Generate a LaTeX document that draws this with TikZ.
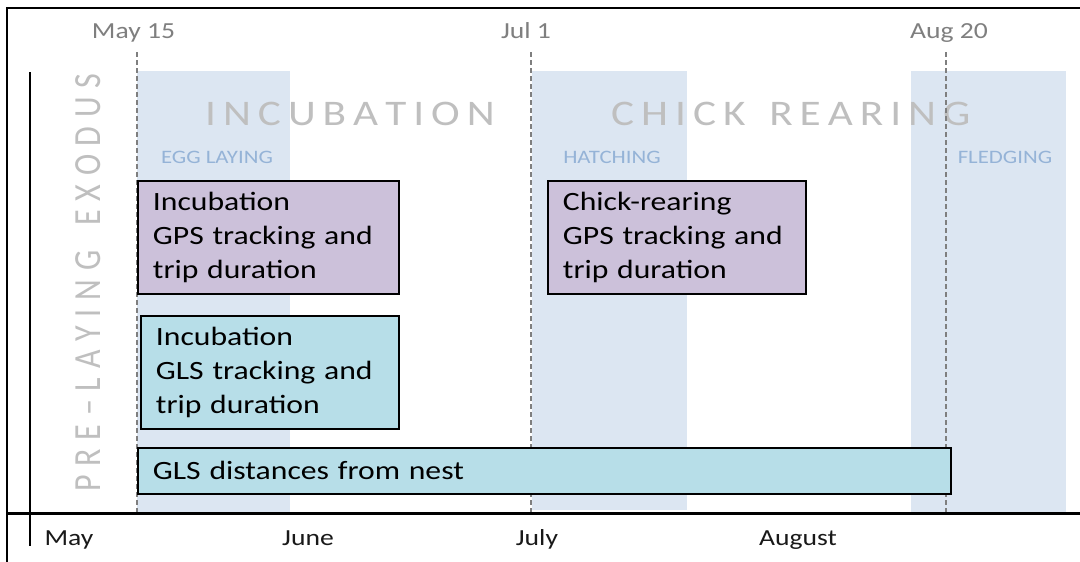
\documentclass[tikz,border=0pt]{standalone}
\usepackage{fontspec}
\usepackage{graphicx}
\setmainfont{Carlito}[FakeStretch=1.2]
\newfontfamily\plainfont{Carlito}
\definecolor{shadeblue}{HTML}{DCE6F2}
\definecolor{lav}{HTML}{CCC1DA}
\definecolor{lightteal}{HTML}{B7DEE8}
\definecolor{phasegray}{HTML}{BFBFBF}
\definecolor{subblue}{HTML}{95B3D7}
\definecolor{dategray}{HTML}{7F7F7F}
\def\spreadit#1#2{\def\spgap{\kern#1}\spreadloop#2\relax}
\def\spreadloop#1{\ifx#1\relax\else#1\spgap\expandafter\spreadloop\fi}
\begin{document}
\begin{tikzpicture}[x=1pt,y=-1pt,
  phase/.style={text=phasegray, font=\fontsize{36}{36}\selectfont, inner sep=0pt, anchor=base west},
  sublabel/.style={text=subblue, font=\fontsize{19}{19}\selectfont, inner sep=0pt, anchor=base},
  datelabel/.style={text=dategray, font=\fontsize{23}{23}\selectfont, inner sep=0pt, anchor=base},
  monthlabel/.style={text=black!90, font=\fontsize{23}{23}\selectfont, inner sep=0pt, anchor=base},
  databox/.style={draw=black, line width=1.8pt, anchor=north west, align=left,
     inner xsep=15pt, inner ysep=0pt, font=\fontsize{26.4}{34}\selectfont},
  marker/.style={draw=dategray, dash pattern=on 5pt off 3pt, line width=1.4pt}
]
\useasboundingbox (0,0) rectangle (1080,562);
\fill[white] (0,0) rectangle (1080,562);
\draw[line width=2pt] (7,580) -- (7,8) -- (1090,8);
% shaded periods
\fill[shadeblue] (137,71) rectangle (290,513);
\fill[shadeblue] (532,71) rectangle (687,510);
\fill[shadeblue] (911,71) rectangle (1066,513);
% phase labels
\node[phase] (incub) at (205,125) {\spreadit{7pt}{INCUBATION}};
\node[phase] (chick) at (611,125) {\spreadit{7pt}{CHICK~REARING}};
\node[text=phasegray, font=\plainfont\fontsize{32}{32}\selectfont, inner sep=0pt,
      rotate=90, anchor=west] (exodus) at (88,492) {\scalebox{1}[1.2]{\spreadit{8.8pt}{PRE–LAYING~EXODUS}}};
% date markers
\coordinate (m15top) at (137,52); \coordinate (m15bot) at (137,513);
\coordinate (j1top) at (531,52); \coordinate (j1bot) at (531,513);
\coordinate (a20top) at (946,52); \coordinate (a20bot) at (946,513);
\draw[marker] (m15top) -- (m15bot);
\draw[marker] (j1top) -- (j1bot);
\draw[marker] (a20top) -- (a20bot);
\node[datelabel] (d1) at (133.5,38) {May 15};
\node[datelabel] (d2) at (526,38) {Jul 1};
\node[datelabel] (d3) at (949,38) {Aug 20};
% sub labels
\node[sublabel] (egg) at (217,163) {EGG LAYING};
\node[sublabel] (hatch) at (612,163) {HATCHING};
\node[sublabel] (fledge) at (1005,163) {FLEDGING};
% data boxes
\node[databox, fill=lav, minimum width=261pt, minimum height=113pt, text width=231pt] (gpsinc) at (137,180)
  {Incubation\\GPS tracking and\\trip duration};
\node[databox, fill=lav, minimum width=258pt, minimum height=113pt, text width=228pt] (gpschick) at (547,180)
  {Chick-rearing\\GPS tracking and\\trip duration};
\node[databox, fill=lightteal, minimum width=258pt, minimum height=113pt, text width=228pt] (glsinc) at (140,315)
  {Incubation\\GLS tracking and\\trip duration};
\node[databox, fill=lightteal, minimum width=813pt, minimum height=46pt, text width=783pt] (glsdist) at (137,447)
  {GLS distances from nest};
% axes
\draw[line width=2pt] (30,72) -- (30,546);
\draw[line width=3pt] (7,513) -- (1085,513);
\node[monthlabel] (may) at (69,545) {May};
\node[monthlabel] (june) at (308,545) {June};
\node[monthlabel] (july) at (537,545) {July};
\node[monthlabel] (aug) at (798,545) {August};
\end{tikzpicture}
\end{document}
